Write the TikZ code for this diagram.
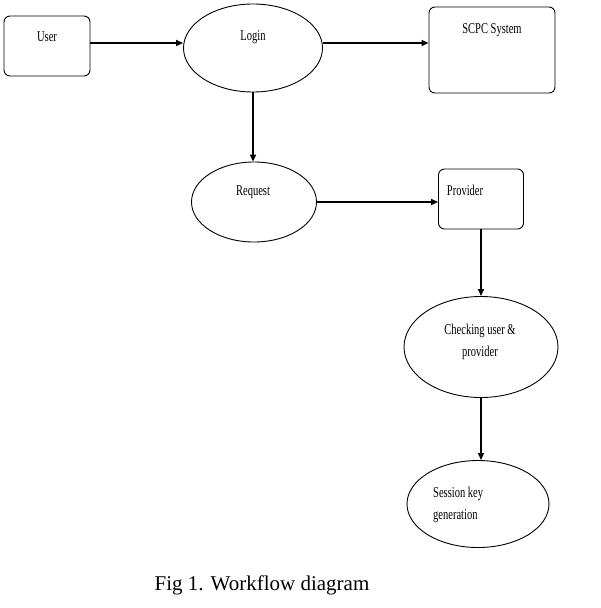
\documentclass[tikz,border=0pt]{standalone}
\usepackage{fontspec}
\setmainfont{Liberation Serif}
\newfontfamily\condfont[FakeStretch=0.7]{Liberation Serif}
\usetikzlibrary{shapes.geometric,arrows.meta}
\begin{document}
\begin{tikzpicture}[x=1pt,y=-1pt,
  box/.style={draw,rounded corners=6pt,line width=0.9pt,inner sep=0},
  oval/.style={draw,ellipse,line width=0.9pt,inner sep=0},
  lbl/.style={font=\condfont\fontsize{15}{22}\selectfont,inner sep=0,align=center},
  arr/.style={line width=1.6pt,-{Triangle[length=7pt,width=6pt]}}]
\useasboundingbox (0,0) rectangle (600,608);
% shapes
\node[box,minimum width=86pt,minimum height=60pt] (user) at (47,46) {};
\node[oval,minimum width=139pt,minimum height=88pt] (login) at (253,48) {};
\node[box,minimum width=126pt,minimum height=86pt] (scpc) at (492,50) {};
\node[oval,minimum width=125pt,minimum height=80pt] (request) at (254,202) {};
\node[box,minimum width=85pt,minimum height=60pt] (provider) at (481,199) {};
\node[oval,minimum width=154pt,minimum height=101pt] (check) at (481,347) {};
\node[oval,minimum width=142pt,minimum height=87pt] (session) at (478,504) {};
% labels
\node[lbl] (userT) at (47,37) {User};
\node[lbl] (loginT) at (253,37) {Login};
\node[lbl] (scpcT) at (492,30) {SCPC System};
\node[lbl] (requestT) at (253,192) {Request};
\node[lbl] (providerT) at (465,190) {Provider};
\node[lbl] (checkT) at (480,342) {Checking user \&\\provider};
\node[lbl,align=left,anchor=west] (sessionT) at (433,505) {Session key\\generation};
\node[font=\fontsize{21}{24}\selectfont,inner sep=0] (caption) at (262,585) {Fig 1. Workflow diagram};
% connectors
\draw[arr] (user.east |- 0,43) -- (login.west |- 0,43);
\draw[arr] (login.east |- 0,43) -- (scpc.west |- 0,43);
\draw[arr] (login.south) -- (login.south |- request.north);
\draw[arr] (request.east) -- (request.east -| provider.west);
\draw[arr] (provider.south) -- (provider.south |- check.north);
\draw[arr] (check.south) -- (check.south |- session.north);
\end{tikzpicture}
\end{document}
